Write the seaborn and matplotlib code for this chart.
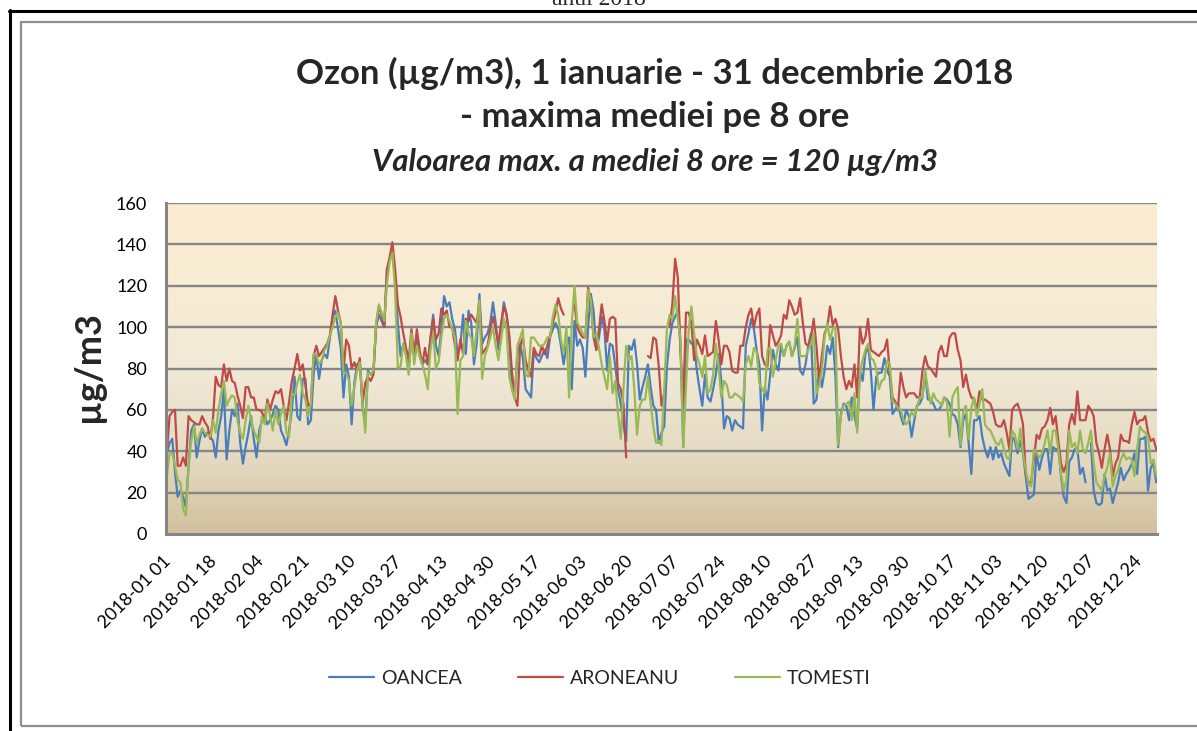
import numpy as np
import pandas as pd
import matplotlib
matplotlib.use("Agg")
import matplotlib.pyplot as plt
import seaborn as sns
from matplotlib.lines import Line2D
from matplotlib.patches import Rectangle
from matplotlib.colors import LinearSegmentedColormap
from matplotlib.transforms import ScaledTranslation

nan = np.nan

# ---------------- data (daily values, 2018-01-01 .. 2018-12-31) ----------------
oancea = [
    39, 44, 46, 30, 18, 21, 18, 13, 33, 50, 53, 37, 45, 51, 47, 49, 47, 45, 37, 50,
    57, 70, 36, 50, 60, 57, 63, 44, 34, 42, 49, 57, 46, 37, 50, 55, 57, 53, 55, 58,
    62, 60, 50, 47, 43, 50, 60, 76, 57, 55, 75, 75, 53, 55, 77, 87, 75, 84, 87, 85,
    95, 105, 108, 99, 90, 66, 82, 76, 53, 73, 82, 83, 62, 53, 79, 77, 78, 100, 106, 103,
    100, 128, 132, 136, 124, 102, 86, 92, 89, 79, 95, 86, 95, 86, 82, 84, 82, 95, 106, 91,
    86, 99, 115, 110, 112, 104, 99, 87, 91, 106, 87, 108, 102, 82, 92, 116, 92, 95, 97, 102,
    112, 102, 89, 100, 112, 106, 94, 70, 66, 87, 92, 85, 70, 68, 66, 88, 85, 83, 86, 89,
    85, 95, 99, 102, 99, 91, 82, 91, 95, 70, 103, 91, 94, 90, 76, 100, 116, 108, 89, 95,
    105, 99, 79, 92, 91, 81, 70, 63, 53, 45, 91, 89, 94, 82, 65, 71, 76, 82, 71, 62,
    60, 44, 49, 52, 81, 94, 102, 105, 108, 91, 42, 94, 94, 92, 92, 79, 70, 62, 77, 66,
    64, 70, 77, 87, 74, 51, 57, 56, 50, 55, 53, 52, 51, 91, 97, 104, 99, 89, 82, 50,
    71, 65, 77, 89, 82, 79, 91, 86, 91, 93, 86, 90, 95, 79, 77, 82, 91, 97, 63, 65,
    79, 71, 79, 91, 87, 95, 76, 42, 58, 63, 62, 55, 66, 57, 51, 79, 74, 87, 91, 79,
    60, 76, 78, 78, 85, 79, 76, 58, 60, 63, 57, 53, 60, 57, 47, 55, 62, 63, 66, 78,
    65, 65, 63, 60, 60, 62, 66, 65, 63, 58, 57, 53, 42, 55, 58, 44, 29, 55, 55, 57,
    47, 41, 37, 42, 36, 42, 37, 39, 34, 31, 28, 47, 45, 39, 45, 39, 28, 17, 18, 19,
    39, 31, 37, 41, 41, 29, 42, 41, 41, 28, 18, 15, 35, 37, 41, 41, 29, 32, 25, nan,
    44, 21, 15, 14, 15, 29, 21, 22, 15, 20, 25, 32, 26, 29, 31, 34, 39, 29, 46, 46,
    47, 21, 32, 34, 25,
]

aroneanu = [
    39, 57, 59, 60, 33, 33, 37, 33, 57, 55, 54, 53, 53, 57, 54, 52, 46, 56, 76, 72,
    71, 82, 74, 80, 74, 73, 67, 62, 56, 71, 71, 66, 66, 60, 60, 59, 55, 65, 60, 65,
    69, 68, 70, 62, 55, 64, 74, 80, 87, 79, 82, 72, 62, 63, 86, 91, 86, 88, 90, 92,
    96, 106, 115, 108, 102, 79, 94, 91, 80, 83, 79, 85, 63, 73, 76, 74, 77, 101, 110, 106,
    100, 128, 134, 141, 128, 111, 105, 97, 90, 84, 99, 87, 99, 89, 82, 90, 82, 94, 104, 94,
    97, 109, 106, 108, 100, 100, 91, 84, 94, 87, 104, 103, 106, 104, 102, 112, 87, 89, 91, 99,
    105, 99, 92, 102, 110, 106, 96, 78, 66, 62, 91, 95, 84, 79, 76, 90, 87, 86, 91, 87,
    91, 96, 102, 107, 114, 109, 106, nan, nan, nan, 111, 100, 97, 95, 95, 119, 113, 95, 89, 99,
    111, 103, 93, 104, 105, 104, 73, 70, 63, 37, nan, nan, nan, nan, nan, nan, nan, 86, 85, 95,
    94, 81, 62, 68, nan, 100, 111, 133, 124, 89, 63, 107, 107, 102, 84, 94, 91, 87, 96, 86,
    87, 88, 103, 94, 82, 91, 91, 88, 79, 78, 78, 91, 91, 100, 106, 109, 100, 106, 109, 86,
    82, 81, 101, 96, 91, 93, 96, 106, 104, 113, 110, 106, 107, 114, 102, 92, 91, 95, 104, 91,
    74, 86, 97, 100, 110, 101, 104, 99, 86, 76, 70, 74, 71, 82, 66, 100, 92, 95, 104, 89,
    88, 87, 86, 88, 89, 94, 78, 66, 64, 61, 78, 71, 66, 68, 68, 68, 66, 66, 79, 86,
    81, 80, 78, 76, 88, 91, 86, 86, 95, 97, 97, 89, 84, 71, 77, 70, 66, 65, 60, 69,
    65, 65, 64, 63, 59, 53, 52, 52, 55, 49, 41, 60, 62, 63, 59, 53, 29, 25, 25, 36,
    48, 46, 51, 52, 55, 61, 53, 57, 45, 34, 30, 34, 53, 58, 53, 69, 55, 55, 55, 62,
    60, 57, 44, 39, 32, 41, 48, 41, 28, 34, 37, 48, 45, 45, 44, 53, 59, 53, 55, 55,
    57, 49, 45, 46, 41,
]

tomesti = [
    28, 39, 39, 33, 26, 25, 12, 9, 33, 45, 52, 44, 48, 51, 49, 48, 47, 55, 49, 60,
    68, 74, 62, 65, 67, 66, 55, 49, 46, 55, 62, 55, 50, 47, 44, 57, 53, 63, 57, 50,
    60, 53, 58, 62, 49, 47, 68, 67, 73, 77, 68, 65, 57, 63, 87, 87, 82, 84, 89, 91,
    96, 100, 105, 107, 102, 78, 78, 74, 62, 71, 79, 83, 63, 49, 78, 77, 79, 102, 111, 107,
    103, 121, 132, 136, 118, 80, 81, 92, 86, 77, 97, 82, 91, 86, 82, 77, 70, 89, 97, 80,
    83, 95, 104, 106, 103, 99, 95, 58, 84, 86, 103, 97, 95, 86, 99, 113, 75, 86, 90, 95,
    100, 91, 84, 94, 104, 99, 76, 70, 65, 91, 95, 99, 77, 76, 95, 95, 93, 91, 91, 92,
    95, 95, 105, 111, 106, 94, 87, 100, 66, 102, 120, 102, 100, 97, 95, 118, 113, 95, 97, 90,
    82, 76, 70, 86, 68, 74, 58, 46, 70, 91, 84, 86, 70, 48, 62, 65, 65, 76, 63, 52,
    44, 45, 43, 70, 99, 106, 104, 115, 104, 94, 42, 70, 99, 110, 97, 86, 82, 76, 86, 68,
    70, 77, 92, 81, 66, 74, 72, 66, 66, 68, 67, 66, 64, 82, 86, 81, 90, 88, 73, 70,
    68, 89, 90, 76, 84, 91, 92, 86, 91, 93, 86, 91, 104, 86, 86, 86, 89, 92, 97, 68,
    72, 79, 95, 102, 94, 99, 100, 43, 57, 62, 63, 64, 55, 68, 49, 78, 84, 89, 92, 85,
    84, 80, 70, 74, 75, 84, 82, 64, 63, 61, 60, 55, 53, 55, 59, 57, 61, 66, 66, 79,
    70, 63, 68, 65, 64, 62, 66, 64, 47, 66, 69, 71, 43, 59, 62, 46, 61, 66, 57, 63,
    70, 53, 51, 50, 47, 44, 43, 46, 41, 37, 36, 50, 48, 41, 51, 39, 31, 24, 23, 41,
    39, 37, 39, 44, 50, 39, 50, 50, 41, 29, 21, 26, 50, 42, 44, 39, 50, 41, 39, 44,
    50, 34, 25, 23, 21, 28, 32, 39, 23, 28, 31, 36, 39, 36, 37, 36, 28, 41, 52, 50,
    49, 47, 34, 36, 28,
]

stations = ["OANCEA", "ARONEANU", "TOMESTI"]
series = [oancea, aroneanu, tomesti]
colors = ["#4A7EBB", "#BE4B48", "#98B954"]
dates = pd.date_range("2018-01-01", "2018-12-31", freq="D")
tick_days = list(range(0, 365, 17))
tick_labels = [dates[d].strftime("%Y-%m %d") for d in tick_days]

# ---------------- long-form frame, split at gaps -------------------------------
rows = []
for name, vals in zip(stations, series):
    seg = 0
    prev_nan = False
    for d, v in enumerate(vals):
        if np.isnan(v):
            prev_nan = True
            continue
        if prev_nan:
            seg += 1
            prev_nan = False
        rows.append((d, v, name, f"{name}_{seg}"))
df = pd.DataFrame(rows, columns=["day", "value", "station", "segment"])

# ---------------- figure -------------------------------------------------------
sns.set_theme(style="white")
plt.rcParams["font.family"] = ["Lato", "DejaVu Sans"]

W, H = 1197, 731
fig = plt.figure(figsize=(W / 100, H / 100), dpi=100)
fig.patch.set_facecolor("white")

def fx(px):
    return px / W

def fy(py):
    return 1 - py / H

# page frame (document table) and chart border
fig.add_artist(Line2D([fx(9), 1.0], [fy(11), fy(11)], color="black", lw=2.2,
                      transform=fig.transFigure))
fig.add_artist(Line2D([fx(10), fx(10)], [fy(10), 0.0], color="black", lw=2.2,
                      transform=fig.transFigure))
fig.add_artist(Rectangle((fx(21), fy(726)), fx(1250) - fx(21), fy(21.5) - fy(726),
                         fill=False, edgecolor="#8E8E8E", lw=1.6,
                         transform=fig.transFigure))
fig.text(fx(599), fy(5), "anul 2018", ha="center", va="baseline",
         family="Liberation Serif", fontsize=17)

# axes
L, R, T, B = 166, 1157, 203, 534
ax = fig.add_axes([fx(L), fy(B), fx(R) - fx(L), fy(T) - fy(B)])

# gradient background
cmap = LinearSegmentedColormap.from_list(
    "parch", [(0.0, "#D1C19D"), (0.22, "#E4D9C0"), (0.5, "#F1EAD7"),
              (0.75, "#F8ECD4"), (1.0, "#FCEDD1")])
grad = np.linspace(0, 1, 256).reshape(-1, 1)
ax.imshow(grad, extent=[0, 1, 0, 1], transform=ax.transAxes, cmap=cmap,
          aspect="auto", origin="lower", zorder=0)

for y in range(20, 161, 20):
    ax.axhline(y, color="#868686", lw=1.7, zorder=1)

sns.lineplot(data=df, x="day", y="value", hue="station", units="segment",
             estimator=None, hue_order=stations, palette=colors, lw=1.6,
             ax=ax, legend=False, zorder=3)

ax.set_xlim(-0.3, 364.3)
ax.set_ylim(0, 160)
ax.set_yticks(range(0, 161, 20))
ax.set_yticklabels([str(v) for v in range(0, 161, 20)], fontsize=13)
ax.set_xticks(tick_days)
ax.set_xticklabels(tick_labels, rotation=45, ha="right", rotation_mode="anchor",
                   fontsize=13)
ax.tick_params(axis="y", length=0, pad=13.5, colors="black")
ax.tick_params(axis="x", length=0, pad=14, colors="black")
shift = ScaledTranslation(-4 / 100, 0, fig.dpi_scale_trans)
for lab in ax.get_xticklabels():
    lab.set_transform(lab.get_transform() + shift)
ax.set_xlabel("")
ax.set_ylabel("")
for s in ["top", "right"]:
    ax.spines[s].set_visible(False)
for s in ["left", "bottom"]:
    ax.spines[s].set_color("#868686")
    ax.spines[s].set_linewidth(2.2)
    ax.spines[s].set_zorder(4)

fig.text(fx(88), fy(367), "µg/m3", rotation=90, ha="center", va="center",
         fontsize=26, fontweight="bold")

# title
tx = fx(655)
fig.text(tx, fy(73), "Ozon (µg/m3), 1 ianuarie - 31 decembrie 2018", ha="center",
         va="center", fontsize=25, fontweight="bold")
fig.text(tx, fy(117), "- maxima mediei pe 8 ore", ha="center", va="center",
         fontsize=25, fontweight="bold")
fig.text(tx, fy(162), "Valoarea max. a mediei 8 ore = 120 µg/m3", ha="center",
         va="center", fontsize=22.5, fontweight="bold", style="italic")

handles = [Line2D([], [], color=c, lw=1.6) for c in colors]
fig.legend(handles, stations, loc="center", bbox_to_anchor=(fx(600), fy(678)),
           ncol=3, frameon=False, fontsize=14, handlelength=2.3,
           columnspacing=2.9, handletextpad=0.35)

fig.savefig("out.png", dpi=100, facecolor="white")
